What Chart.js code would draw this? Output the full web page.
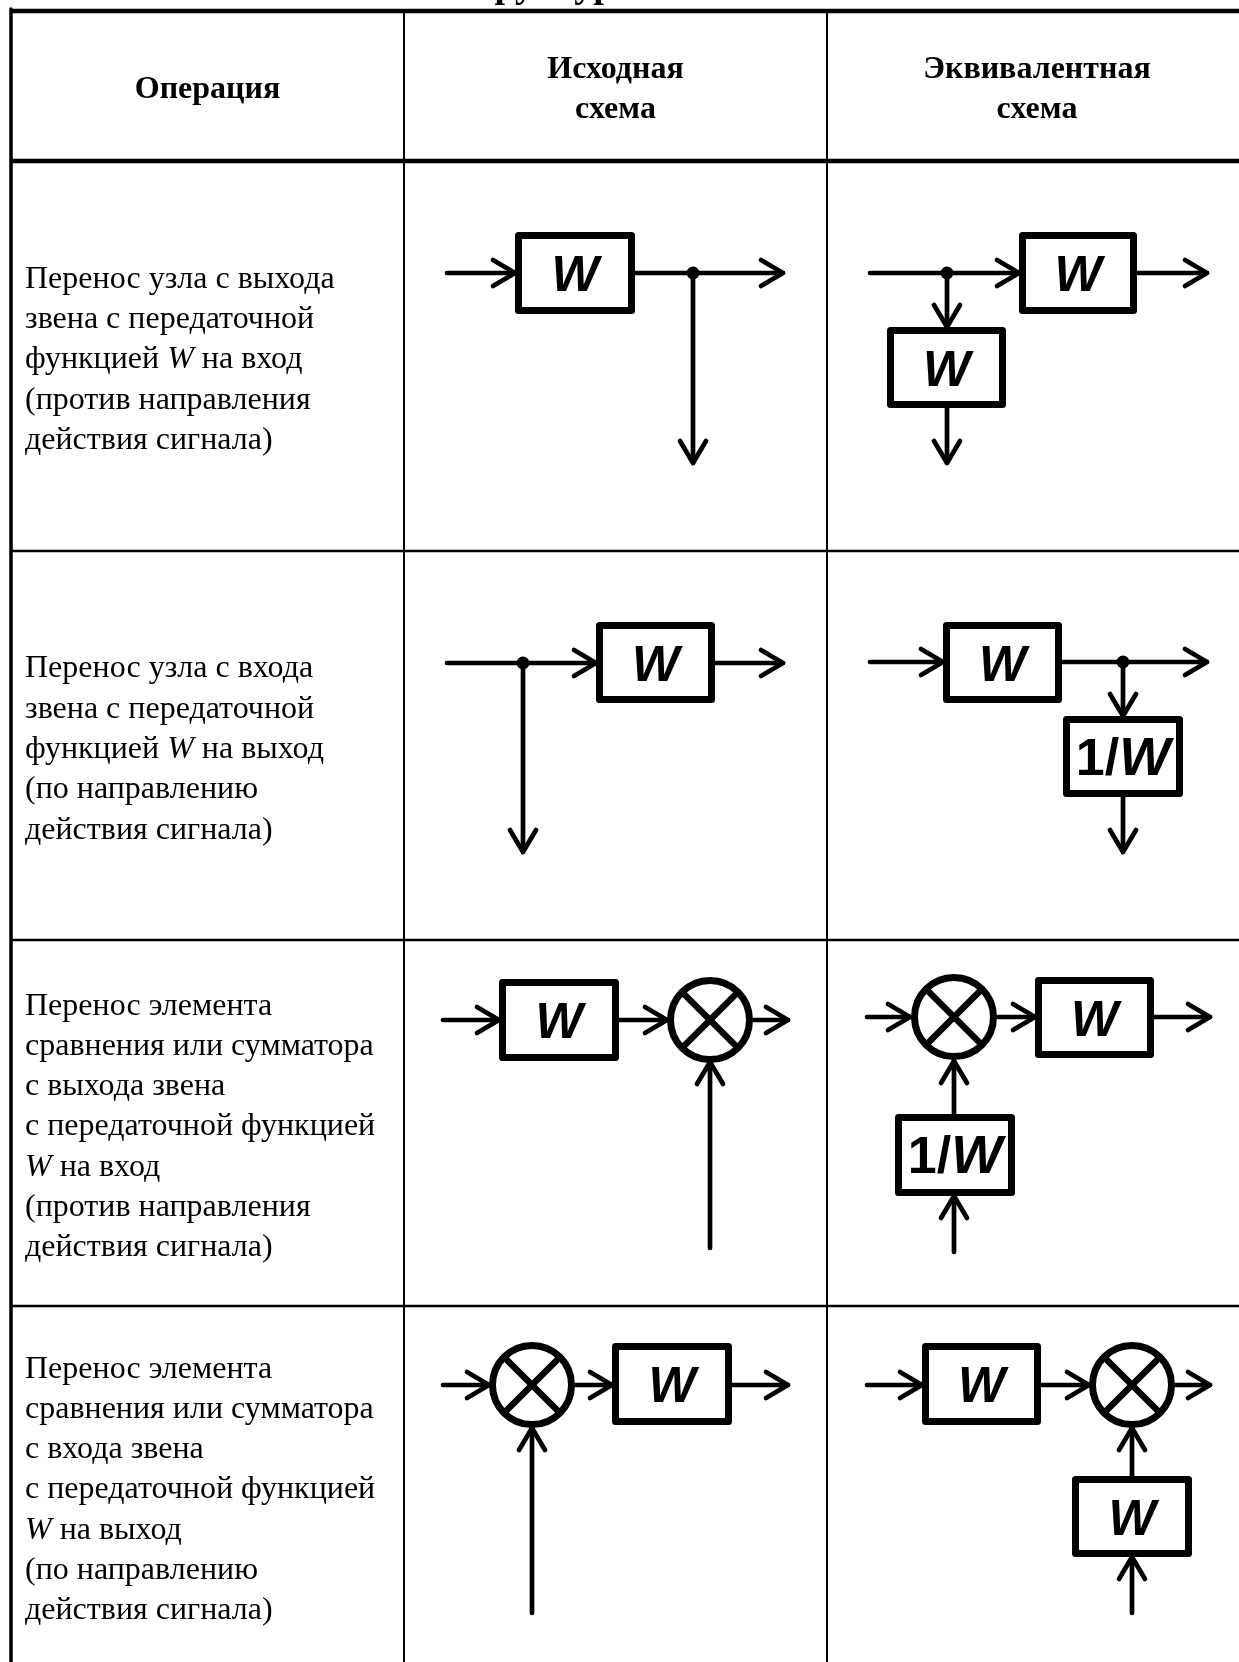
<!DOCTYPE html>
<html>
<head>
<meta charset="utf-8">
<script src="https://cdn.jsdelivr.net/npm/chart.js@4.4.1/dist/chart.umd.min.js"></script>
<style>
body { margin: 0; background: #fff; }
#wrap { width: 1239px; height: 1662px; position: relative; }
</style>
</head>
<body>
<div id="wrap"><canvas id="myChart"></canvas></div>
<script>

// table frame (units = pixels of the scanned page)
var colEdges = [11, 404, 827, 1247];
var rowEdges = [11, 161, 551, 940, 1306, 1666];

var headTitle = 'структурных схем';
var headCells = [['Операция'], ['Исходная', 'схема'], ['Эквивалентная', 'схема']];

var opRows = [
	['Перенос узла с выхода', 'звена с передаточной', 'функцией *W* на вход', '(против направления', 'действия сигнала)'],
	['Перенос узла с входа', 'звена с передаточной', 'функцией *W* на выход', '(по направлению', 'действия сигнала)'],
	['Перенос элемента', 'сравнения или сумматора', 'с выхода звена', 'с передаточной функцией', '*W* на вход', '(против направления', 'действия сигнала)'],
	['Перенос элемента', 'сравнения или сумматора', 'с входа звена', 'с передаточной функцией', '*W* на выход', '(по направлению', 'действия сигнала)']
];

// blocks: left, top, right, bottom, label
var boxes = [
	[515, 232, 635, 314, 'W'],
	[1019, 232, 1137, 314, 'W'],
	[887, 327, 1006, 408, 'W'],
	[596, 622, 715, 703, 'W'],
	[943, 622, 1062, 703, 'W'],
	[1063, 716, 1183, 797, '1/W'],
	[499, 979, 619, 1061, 'W'],
	[1035, 977, 1154, 1058, 'W'],
	[895, 1114, 1015, 1196, '1/W'],
	[612, 1343, 732, 1425, 'W'],
	[922, 1343, 1041, 1425, 'W'],
	[1072, 1476, 1192, 1557, 'W']
];

// summing junctions (centre)
var summers = [[710, 1020], [954, 1017], [532, 1385], [1132, 1385]];

// branch nodes
var nodes = [[693, 273], [947, 273], [523, 663], [1123, 662]];

// signal lines, arrow head at the second point
var arrows = [
	[447, 273, 515, 273], [635, 273, 783, 273], [693, 273, 693, 463],
	[870, 273, 1019, 273], [1137, 273, 1207, 273], [947, 273, 947, 327], [947, 408, 947, 463],
	[447, 663, 596, 663], [715, 663, 783, 663], [523, 663, 523, 852],
	[870, 662, 943, 662], [1062, 662, 1207, 662], [1123, 662, 1123, 716], [1123, 797, 1123, 852],
	[443, 1020, 499, 1020], [619, 1020, 667, 1020], [753, 1020, 788, 1020], [710, 1248, 710, 1062],
	[867, 1017, 910, 1017], [998, 1017, 1035, 1017], [1154, 1017, 1210, 1017], [954, 1114, 954, 1061], [954, 1252, 954, 1196],
	[443, 1385, 489, 1385], [575, 1385, 612, 1385], [732, 1385, 788, 1385], [532, 1613, 532, 1428],
	[867, 1385, 922, 1385], [1041, 1385, 1089, 1385], [1175, 1385, 1210, 1385], [1132, 1476, 1132, 1428], [1132, 1613, 1132, 1557]
];


var datasets = [];

function addPath(pts, w, cap) {
	datasets.push({
		data: pts.map(function (p) { return {x: p[0], y: p[1]}; }),
		showLine: true,
		borderColor: '#000',
		borderWidth: w,
		borderCapStyle: cap || 'round',
		borderJoinStyle: 'round',
		pointRadius: 0,
		fill: false,
		clip: false
	});
}

// junctions on top
datasets.push({
	data: summers.map(function (s) { return {x: s[0], y: s[1]}; }),
	pointStyle: 'crossRot',
	pointRadius: 40,
	pointBorderWidth: 6.5,
	pointBorderColor: '#000',
	clip: false
});
datasets.push({
	data: summers.map(function (s) { return {x: s[0], y: s[1]}; }),
	pointStyle: 'circle',
	pointRadius: 39.5,
	pointBorderWidth: 7,
	pointBorderColor: '#000',
	pointBackgroundColor: '#fff',
	clip: false
});
datasets.push({
	data: nodes.map(function (n) { return {x: n[0], y: n[1]}; }),
	pointStyle: 'circle',
	pointRadius: 6.5,
	pointBorderWidth: 0,
	pointBackgroundColor: '#000',
	clip: false
});

for (var i = 0; i < boxes.length; i++) {
	var b = boxes[i];
	var l = b[0] + 3.5, t = b[1] + 3.5, r = b[2] - 3.5, bt = b[3] - 3.5;
	addPath([[l, t], [r, t], [r, bt], [l, bt], [l, t]], 7);
}

var headLen = 22, headHalf = 13;
for (var k = 0; k < arrows.length; k++) {
	var a = arrows[k];
	addPath([[a[0], a[1]], [a[2], a[3]]], 4.7);
	var dx = a[2] - a[0], dy = a[3] - a[1];
	var len = Math.sqrt(dx * dx + dy * dy);
	var ux = dx / len, uy = dy / len;
	var bx = a[2] - ux * headLen, by = a[3] - uy * headLen;
	addPath([[bx - uy * headHalf, by + ux * headHalf], [a[2], a[3]], [bx + uy * headHalf, by - ux * headHalf]], 4.7);
}

// table rules
addPath([[colEdges[0], rowEdges[0] - 2], [colEdges[0], 1662]], 3.5, 'butt');
addPath([[colEdges[1], rowEdges[0]], [colEdges[1], 1662]], 2, 'butt');
addPath([[colEdges[2], rowEdges[0]], [colEdges[2], 1662]], 2, 'butt');
addPath([[colEdges[0], rowEdges[0]], [1239, rowEdges[0]]], 4.5, 'butt');
addPath([[colEdges[0], rowEdges[1]], [1239, rowEdges[1]]], 4.5, 'butt');
for (var j = 2; j < rowEdges.length - 1; j++) {
	addPath([[colEdges[0], rowEdges[j]], [1239, rowEdges[j]]], 2.5, 'butt');
}


function drawMixed(ctx, str, x, y, size) {
	var parts = str.split('*');
	for (var p = 0; p < parts.length; p++) {
		ctx.font = (p % 2 ? 'italic ' : '') + size + 'px "Liberation Serif"';
		ctx.fillText(parts[p], x, y);
		x += ctx.measureText(parts[p]).width;
	}
}

var textPlugin = {
	id: 'cellText',
	afterDatasetsDraw: function (chart) {
		var ctx = chart.ctx;
		var xs = chart.scales.x, ys = chart.scales.y;
		ctx.save();
		ctx.fillStyle = '#000';

		// title, cut off by the page edge: only the descenders show
		ctx.font = 'bold 38px "Liberation Serif"';
		ctx.textAlign = 'left';
		ctx.textBaseline = 'alphabetic';
		var tx = xs.getPixelForValue(494) - ctx.measureText('ст').width;
		ctx.fillText(headTitle, tx, ys.getPixelForValue(-3));

		// header
		ctx.font = 'bold 32px "Liberation Serif"';
		ctx.textAlign = 'center';
		ctx.textBaseline = 'middle';
		var lineH = 40.3, shift = 4;
		for (var c = 0; c < headCells.length; c++) {
			var cx = (colEdges[c] + colEdges[c + 1]) / 2;
			var cy = (rowEdges[0] + rowEdges[1]) / 2 + shift;
			var lines = headCells[c];
			for (var n = 0; n < lines.length; n++) {
				var yy = cy + (n - (lines.length - 1) / 2) * lineH;
				ctx.fillText(lines[n], xs.getPixelForValue(cx), ys.getPixelForValue(yy));
			}
		}

		// operation descriptions
		ctx.textAlign = 'left';
		for (var r = 0; r < opRows.length; r++) {
			var rc = (rowEdges[r + 1] + rowEdges[r + 2]) / 2 + shift;
			var rl = opRows[r];
			for (var m = 0; m < rl.length; m++) {
				var ty = rc + (m - (rl.length - 1) / 2) * lineH;
				drawMixed(ctx, rl[m], xs.getPixelForValue(25), ys.getPixelForValue(ty), 32);
			}
		}

		// block labels
		ctx.textBaseline = 'alphabetic';
		for (var q = 0; q < boxes.length; q++) {
			var bb = boxes[q];
			var mx = xs.getPixelForValue((bb[0] + bb[2]) / 2);
			var my = ys.getPixelForValue((bb[1] + bb[3]) / 2) + 18;
			var pre = bb[4].slice(0, -1);
			var fs = pre ? 54 : 50;
			ctx.font = 'bold ' + (fs - 2) + 'px "Liberation Sans"';
			var w1 = ctx.measureText(pre).width;
			ctx.font = 'italic bold ' + fs + 'px "Liberation Sans"';
			var w2 = ctx.measureText('W').width;
			var sx = mx - (w1 + w2) / 2;
			ctx.textAlign = 'left';
			if (pre) {
				ctx.font = 'bold ' + (fs - 2) + 'px "Liberation Sans"';
				ctx.fillText(pre, sx, my);
			}
			ctx.font = 'italic bold ' + fs + 'px "Liberation Sans"';
			ctx.fillText('W', sx + w1, my);
		}
		ctx.restore();
	}
};

var ctx = document.getElementById('myChart').getContext('2d');
var chart = new Chart(ctx, {
	type: 'scatter',
	data: { datasets: datasets },
	options: {
		responsive: true,
		maintainAspectRatio: false,
		animation: false,
		events: [],
		layout: { padding: 0, autoPadding: false },
		plugins: {
			legend: { display: false },
			tooltip: { enabled: false }
		},
		scales: {
			x: { type: 'linear', min: 0, max: 1239, display: false },
			y: { type: 'linear', min: 0, max: 1662, reverse: true, display: false }
		}
	},
	plugins: [textPlugin]
});

</script>
</body>
</html>
